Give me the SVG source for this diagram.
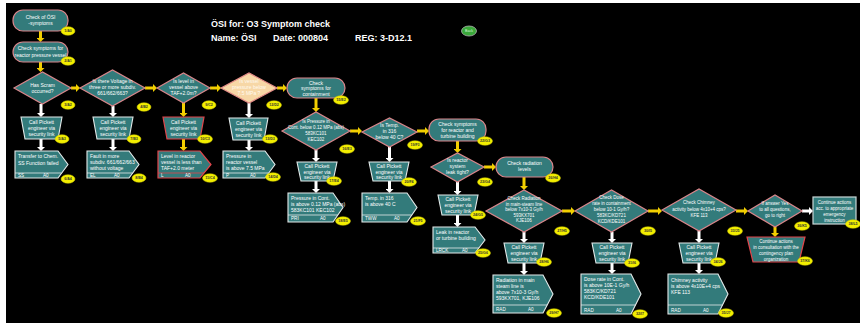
<svg xmlns="http://www.w3.org/2000/svg" width="860" height="323" viewBox="0 0 860 323">
<style>
.bg{fill:#000}
.pk{fill:#337b7b;stroke:#d9868b;stroke-width:1.2}
.wt{fill:#337b7b;stroke:#e4eaea;stroke-width:1.1}
.rd{fill:#337b7b;stroke:#e2454b;stroke-width:1.2}
.pe{fill:#f7d7a6;stroke:#e48d88;stroke-width:1.2}
.lb{fill:#337b7b;stroke:#c9d6d6;stroke-width:1.2}
.sep{stroke:#e4eaea;stroke-width:0.8;fill:none}
.seprd{stroke:#e2454b;stroke-width:0.8;fill:none}
text{font-family:"Liberation Sans",Arial,sans-serif}
.tx{font-size:5px;fill:#fff;text-anchor:middle}
.ts{font-size:4.5px;fill:#fff;text-anchor:middle}
.tl{font-size:5px;fill:#fff;text-anchor:start}
.tf{font-size:4.6px;fill:#fff;text-anchor:start}
.tpe{font-size:5px;fill:#fffaf0;text-anchor:middle}
.bd{fill:#f3ee00;stroke:#c9c200;stroke-width:0.5}
.bt{font-size:3.6px;font-weight:bold;fill:#333;text-anchor:middle}
.ttl{font-size:9px;font-weight:bold;fill:#fff}
.ya{stroke:#f2cf00;stroke-width:3;fill:none}
.wa{stroke:#ffffff;stroke-width:3;fill:none}
</style>
<defs>
<marker id="hy" viewBox="0 0 4 8" refX="0" refY="4" markerWidth="4" markerHeight="8" markerUnits="userSpaceOnUse" orient="auto"><path d="M0,0 L4,4 L0,8 Z" fill="#f2cf00"/></marker>
<marker id="hw" viewBox="0 0 4 8" refX="0" refY="4" markerWidth="4" markerHeight="8" markerUnits="userSpaceOnUse" orient="auto"><path d="M0,0 L4,4 L0,8 Z" fill="#ffffff"/></marker>
</defs>
<rect class="bg" x="0" y="0" width="860" height="323"/>
<rect x="0" y="0" width="860" height="3" fill="#fff"/>
<rect x="0" y="0" width="6" height="323" fill="#fff"/>

<g id="title">
<text class="ttl" x="211" y="27">ÖSI for: O3 Symptom check</text>
<text class="ttl" x="211" y="41">Name: ÖSI</text>
<text class="ttl" x="273" y="41">Date: 000804</text>
<text class="ttl" x="355" y="41">REG: 3-D12.1</text>
</g>
<g id="back">
<ellipse cx="469" cy="31" rx="7.5" ry="5" fill="#3aa83a" stroke="#b0b0b0" stroke-width="0.8"/>
<text x="469" y="32.3" style="font-size:3.5px;fill:#d8f8d8;text-anchor:middle">Back</text>
</g>

<g id="connectors">
<line class="ya" x1="40.5" y1="31" x2="40.5" y2="38" marker-end="url(#hy)"/>
<line class="ya" x1="40.5" y1="62" x2="40.5" y2="68" marker-end="url(#hy)"/>
<line class="ya" x1="71" y1="88" x2="76" y2="88" marker-end="url(#hy)"/>
<line class="ya" x1="145" y1="88" x2="153" y2="88" marker-end="url(#hy)"/>
<line class="ya" x1="210" y1="88" x2="217" y2="88" marker-end="url(#hy)"/>
<line class="ya" x1="277" y1="88" x2="283" y2="88" marker-end="url(#hy)"/>
<line class="ya" x1="316" y1="98" x2="316" y2="108" marker-end="url(#hy)"/>
<line class="ya" x1="350" y1="131" x2="358" y2="131" marker-end="url(#hy)"/>
<line class="ya" x1="417" y1="131" x2="425" y2="131" marker-end="url(#hy)"/>
<line class="ya" x1="457.5" y1="141" x2="457.5" y2="149" marker-end="url(#hy)"/>
<line class="ya" x1="484" y1="167" x2="492" y2="167" marker-end="url(#hy)"/>
<line class="ya" x1="524" y1="177" x2="524" y2="186" marker-end="url(#hy)"/>
<line class="ya" x1="562" y1="211" x2="571" y2="211" marker-end="url(#hy)"/>
<line class="ya" x1="648" y1="211" x2="658" y2="211" marker-end="url(#hy)"/>
<line class="ya" x1="736" y1="211" x2="744" y2="211" marker-end="url(#hy)"/>
<line class="ya" x1="775" y1="227" x2="775" y2="233" marker-end="url(#hy)"/>
<line class="ya" x1="183.5" y1="103" x2="183.5" y2="113" marker-end="url(#hy)"/>
<line class="ya" x1="183.5" y1="139" x2="183.5" y2="147" marker-end="url(#hy)"/>
<line class="wa" x1="41" y1="104" x2="41" y2="113" marker-end="url(#hw)"/>
<line class="wa" x1="41" y1="139" x2="41" y2="147" marker-end="url(#hw)"/>
<line class="wa" x1="113" y1="106" x2="113" y2="113" marker-end="url(#hw)"/>
<line class="wa" x1="113" y1="139" x2="113" y2="147" marker-end="url(#hw)"/>
<line class="wa" x1="249" y1="103" x2="249" y2="114" marker-end="url(#hw)"/>
<line class="wa" x1="249" y1="140" x2="249" y2="147" marker-end="url(#hw)"/>
<line class="wa" x1="316" y1="150" x2="316" y2="158" marker-end="url(#hw)"/>
<line class="wa" x1="316" y1="181" x2="316" y2="189" marker-end="url(#hw)"/>
<line class="wa" x1="389.5" y1="147" x2="389.5" y2="158" marker-end="url(#hw)"/>
<line class="wa" x1="389.5" y1="181" x2="389.5" y2="189" marker-end="url(#hw)"/>
<line class="wa" x1="457.5" y1="182" x2="457.5" y2="191" marker-end="url(#hw)"/>
<line class="wa" x1="457.5" y1="215" x2="457.5" y2="223" marker-end="url(#hw)"/>
<line class="wa" x1="524" y1="232" x2="524" y2="239" marker-end="url(#hw)"/>
<line class="wa" x1="524" y1="263" x2="524" y2="271" marker-end="url(#hw)"/>
<line class="wa" x1="612" y1="232" x2="612" y2="239" marker-end="url(#hw)"/>
<line class="wa" x1="612" y1="263" x2="612" y2="270" marker-end="url(#hw)"/>
<line class="wa" x1="699" y1="231" x2="699" y2="239" marker-end="url(#hw)"/>
<line class="wa" x1="699" y1="263" x2="699" y2="270" marker-end="url(#hw)"/>
<line class="wa" x1="802" y1="211" x2="809" y2="211" marker-end="url(#hw)"/>
</g>

<!-- Column A -->
<g id="n1">
<rect class="pk" x="13" y="10" width="55" height="21" rx="10"/>
<text class="tx" x="40.5" y="18.5">Check of ÖSI</text>
<text class="tx" x="40.5" y="25">-symptoms</text>
<ellipse class="bd" cx="68" cy="31" rx="7" ry="4.3"/><text class="bt" x="68" y="32.3">1/A0</text>
</g>
<g id="n2">
<rect class="pk" x="13" y="42" width="55" height="20" rx="10"/>
<text class="tx" x="40.5" y="50">Check symptoms for</text>
<text class="tx" x="40.5" y="56.5">reactor pressure vessel</text>
<ellipse class="bd" cx="68" cy="61" rx="7" ry="4.3"/><text class="bt" x="68" y="62.3">2/A1</text>
</g>
<g id="n3">
<polygon class="pk" points="14,88 42.5,72 71,88 42.5,104"/>
<text class="tx" x="42.5" y="87">Has Scram</text>
<text class="tx" x="42.5" y="93">occurred?</text>
<ellipse class="bd" cx="68" cy="105" rx="7" ry="4.3"/><text class="bt" x="68" y="106.3">3/A2</text>
</g>
<g id="n5">
<polygon class="wt" points="21,117 62,117 58,139 25,139"/>
<text class="tx" x="41.5" y="124">Call Pickett</text>
<text class="tx" x="41.5" y="130">engineer via</text>
<text class="tx" x="41.5" y="136">security link</text>
<ellipse class="bd" cx="62" cy="139" rx="7" ry="4.3"/><text class="bt" x="62" y="140.3">5/A3</text>
</g>
<g id="n6">
<path class="wt" d="M15,151 H58 L68,164.5 L58,178 H15 Z"/>
<path class="sep" d="M15,173 H61.5"/>
<text class="tl" x="18" y="158">Transfer to Chem.</text>
<text class="tl" x="18" y="164.5">SS Function failed</text>
<text class="tf" x="18" y="177">SS</text><text class="tf" x="43" y="177">A0</text>
<ellipse class="bd" cx="68" cy="179" rx="7" ry="4.3"/><text class="bt" x="68" y="180.3">6/A4</text>
</g>

<!-- Column B -->
<g id="n4">
<polygon class="pk" points="80,88 112.5,70 145,88 112.5,106"/>
<text class="tx" x="112.5" y="83">Is there Voltage in</text>
<text class="tx" x="112.5" y="89">three or more subdiv.</text>
<text class="tx" x="112.5" y="95">661/662/663?</text>
<ellipse class="bd" cx="144" cy="107" rx="7" ry="4.3"/><text class="bt" x="144" y="108.3">4/B2</text>
</g>
<g id="n7">
<polygon class="wt" points="93,117 133,117 129,139 97,139"/>
<text class="tx" x="113" y="124">Call Pickett</text>
<text class="tx" x="113" y="130">engineer via</text>
<text class="tx" x="113" y="136">security link</text>
<ellipse class="bd" cx="134" cy="139" rx="7" ry="4.3"/><text class="bt" x="134" y="140.3">7/B3</text>
</g>
<g id="n8">
<path class="wt" d="M87,151 H129 L139,164.5 L129,178 H87 Z"/>
<path class="sep" d="M87,173 H132.5"/>
<text class="tl" x="90" y="157.5">Fault in more</text>
<text class="tl" x="90" y="163.5">subdiv. 661/662/663</text>
<text class="tl" x="90" y="169.5">without voltage</text>
<text class="tf" x="90" y="177">EL</text><text class="tf" x="114" y="177">A0</text>
<ellipse class="bd" cx="139" cy="178" rx="7" ry="4.3"/><text class="bt" x="139" y="179.3">8/B4</text>
</g>

<!-- Column C -->
<g id="n9">
<polygon class="pk" points="157,88 183.5,73 210,88 183.5,103"/>
<text class="tx" x="183.5" y="83">Is level in</text>
<text class="tx" x="183.5" y="89">vessel above</text>
<text class="tx" x="183.5" y="95">TAF+2.0m?</text>
<ellipse class="bd" cx="209" cy="105" rx="7" ry="4.3"/><text class="bt" x="209" y="106.3">9/C2</text>
</g>
<g id="n10">
<polygon class="rd" points="163,117 204,117 200,139 167,139"/>
<text class="tx" x="183.5" y="124">Call Pickett</text>
<text class="tx" x="183.5" y="130">engineer via</text>
<text class="tx" x="183.5" y="136">security link</text>
<ellipse class="bd" cx="205" cy="139" rx="7.5" ry="4.3"/><text class="bt" x="205" y="140.3">10/C3</text>
</g>
<g id="n11">
<path class="rd" d="M158,151 H200 L211,164.5 L200,178 H158 Z"/>
<path class="seprd" d="M158,173 H204"/>
<text class="tl" x="161" y="157.5">Level in reactor</text>
<text class="tl" x="161" y="163.5">vessel is less than</text>
<text class="tl" x="161" y="169.5">TAF+2.0 meter</text>
<text class="tf" x="161" y="177">L</text><text class="tf" x="185" y="177">A0</text>
<ellipse class="bd" cx="210" cy="178" rx="7.5" ry="4.3"/><text class="bt" x="210" y="179.3">11/C4</text>
</g>

<!-- Column D -->
<g id="n12">
<polygon class="pe" points="221,88 249,73 277,88 249,103"/>
<text class="tpe" x="249" y="83">Is vessel</text>
<text class="tpe" x="249" y="89">pressure below</text>
<text class="tpe" x="249" y="95">7.5 MPa ?</text>
<ellipse class="bd" cx="274" cy="105" rx="7.5" ry="4.3"/><text class="bt" x="274" y="106.3">12/D2</text>
</g>
<g id="n13">
<polygon class="wt" points="229,118 268,118 264,140 233,140"/>
<text class="tx" x="248.5" y="125">Call Pickett</text>
<text class="tx" x="248.5" y="131">engineer via</text>
<text class="tx" x="248.5" y="137">security link</text>
<ellipse class="bd" cx="270" cy="139" rx="7.5" ry="4.3"/><text class="bt" x="270" y="140.3">13/D3</text>
</g>
<g id="n14">
<path class="wt" d="M223,151 H265 L275,164.5 L265,178 H223 Z"/>
<path class="sep" d="M223,173 H268.5"/>
<text class="tl" x="226" y="157.5">Pressure in</text>
<text class="tl" x="226" y="163.5">reactor vessel</text>
<text class="tl" x="226" y="169.5">is above 7.5 MPa</text>
<text class="tf" x="226" y="177">P</text><text class="tf" x="250" y="177">A0</text>
<ellipse class="bd" cx="273" cy="177" rx="7.5" ry="4.3"/><text class="bt" x="273" y="178.3">14/D4</text>
</g>

<!-- Column E -->
<g id="n15">
<rect class="pk" x="287" y="78" width="58" height="20" rx="10"/>
<text class="tx" x="316" y="84.5">Check</text>
<text class="tx" x="316" y="90">symptoms for</text>
<text class="tx" x="316" y="95.5">containment</text>
<ellipse class="bd" cx="341" cy="100" rx="7.5" ry="4.3"/><text class="bt" x="341" y="101.3">15/E2</text>
</g>
<g id="n16">
<polygon class="pk" points="282,131 316,112 350,131 316,150"/>
<text class="ts" x="316" y="123">Is Pressure in</text>
<text class="ts" x="316" y="129">Cont. below 0.12 MPa (abs)</text>
<text class="ts" x="316" y="135">583KC101</text>
<text class="ts" x="316" y="141">KEC102</text>
<ellipse class="bd" cx="347" cy="149" rx="7.5" ry="4.3"/><text class="bt" x="347" y="150.3">16/E3</text>
</g>
<g id="n17">
<polygon class="wt" points="297,162 337,162 333,181 301,181"/>
<text class="tx" x="317" y="168">Call Pickett</text>
<text class="tx" x="317" y="173.5">engineer via</text>
<text class="tx" x="317" y="179">security link</text>
<ellipse class="bd" cx="334" cy="181" rx="7.5" ry="4.3"/><text class="bt" x="334" y="182.3">17/E4</text>
</g>
<g id="n18">
<path class="wt" d="M288,193 H333 L343,207.5 L333,222 H288 Z"/>
<path class="sep" d="M288,215 H337.8"/>
<text class="tl" x="291" y="199.5">Pressure in Cont.</text>
<text class="tl" x="291" y="205.5">is above 0.12 MPa (abs)</text>
<text class="tl" x="291" y="211.5">583KC101 KEC102</text>
<text class="tf" x="291" y="220.3">PRI</text><text class="tf" x="320" y="220.3">A0</text>
<ellipse class="bd" cx="343" cy="221" rx="7.5" ry="4.3"/><text class="bt" x="343" y="222.3">18/E5</text>
</g>

<!-- Column F -->
<g id="n19">
<polygon class="pk" points="362,132 389.5,118 417,132 389.5,147"/>
<text class="tx" x="389.5" y="127">Is Temp.</text>
<text class="tx" x="389.5" y="133">in 316</text>
<text class="tx" x="389.5" y="139">below 40 C?</text>
<ellipse class="bd" cx="415" cy="145" rx="7.5" ry="4.3"/><text class="bt" x="415" y="146.3">19/F3</text>
</g>
<g id="n20">
<polygon class="wt" points="369,162 409,162 405,181 373,181"/>
<text class="tx" x="389" y="168">Call Pickett</text>
<text class="tx" x="389" y="173.5">engineer via</text>
<text class="tx" x="389" y="179">security link</text>
<ellipse class="bd" cx="409" cy="182" rx="7.5" ry="4.3"/><text class="bt" x="409" y="183.3">20/F4</text>
</g>
<g id="n21">
<path class="wt" d="M362,193 H407 L417,207.5 L407,222 H362 Z"/>
<path class="sep" d="M362,215 H411.8"/>
<text class="tl" x="365" y="200">Temp. in 316</text>
<text class="tl" x="365" y="206">is above 40 C</text>
<text class="tf" x="365" y="220.3">TWW</text><text class="tf" x="394" y="220.3">A0</text>
<ellipse class="bd" cx="418" cy="221" rx="7.5" ry="4.3"/><text class="bt" x="418" y="222.3">21/F5</text>
</g>

<!-- Column G -->
<g id="n22">
<rect class="pk" x="429" y="119" width="57" height="22" rx="10"/>
<text class="tx" x="457.5" y="126">Check symptoms</text>
<text class="tx" x="457.5" y="132">for reactor and</text>
<text class="tx" x="457.5" y="138">turbine building</text>
<ellipse class="bd" cx="485" cy="141" rx="7.5" ry="4.3"/><text class="bt" x="485" y="142.3">22/G3</text>
</g>
<g id="n23">
<polygon class="pk" points="431,167 457.5,153 484,167 457.5,182"/>
<text class="tx" x="457.5" y="162">Is reactor</text>
<text class="tx" x="457.5" y="168">system</text>
<text class="tx" x="457.5" y="174">leak tight?</text>
<ellipse class="bd" cx="485" cy="182" rx="7.5" ry="4.3"/><text class="bt" x="485" y="183.3">23/G4</text>
</g>
<g id="n24">
<polygon class="wt" points="438,195 478,195 474,215 442,215"/>
<text class="tx" x="458" y="201">Call Pickett</text>
<text class="tx" x="458" y="207">engineer via</text>
<text class="tx" x="458" y="213">security link</text>
<ellipse class="bd" cx="478" cy="215" rx="7.5" ry="4.3"/><text class="bt" x="478" y="216.3">24/G5</text>
</g>
<g id="n25">
<path class="wt" d="M433,227 H475 L485,240 L475,253 H433 Z"/>
<path class="sep" d="M433,248 H478.8"/>
<text class="tl" x="436" y="234">Leak in reactor</text>
<text class="tl" x="436" y="240">or turbine building</text>
<text class="tf" x="436" y="252">LRCK</text><text class="tf" x="462" y="252">A0</text>
<ellipse class="bd" cx="483" cy="253" rx="7.5" ry="4.3"/><text class="bt" x="483" y="254.3">25/G6</text>
</g>

<!-- Column H -->
<g id="n26">
<rect class="pk" x="496" y="157" width="57" height="20" rx="10"/>
<text class="tx" x="524.5" y="165">Check radiation</text>
<text class="tx" x="524.5" y="171">levels</text>
<ellipse class="bd" cx="553" cy="178" rx="7.5" ry="4.3"/><text class="bt" x="553" y="179.3">26/H4</text>
</g>
<g id="n27">
<polygon class="pk" points="486,211 524,190 562,211 524,232"/>
<text class="ts" x="524" y="200">Check Radiation</text>
<text class="ts" x="524" y="205.5">in main-steam line</text>
<text class="ts" x="524" y="211">below 7x10-3 Gy/h</text>
<text class="ts" x="524" y="216.5">593KX701</text>
<text class="ts" x="524" y="222">KJE106</text>
<ellipse class="bd" cx="562" cy="231" rx="7.5" ry="4.3"/><text class="bt" x="562" y="232.3">27/H5</text>
</g>
<g id="n28">
<polygon class="wt" points="504,243 544,243 540,263 508,263"/>
<text class="tx" x="524" y="249">Call Pickett</text>
<text class="tx" x="524" y="255">engineer via</text>
<text class="tx" x="524" y="261">security link</text>
<ellipse class="bd" cx="544" cy="262" rx="7.5" ry="4.3"/><text class="bt" x="544" y="263.3">28/H6</text>
</g>
<g id="n29">
<path class="wt" d="M493,275 H543 L553,294 L543,313 H493 Z"/>
<path class="sep" d="M493,305 H547.2"/>
<text class="tl" x="496" y="282">Radiation in main</text>
<text class="tl" x="496" y="288">steam line is</text>
<text class="tl" x="496" y="294">above 7x10-3 Gy/h</text>
<text class="tl" x="496" y="300">593KX701, KJE106</text>
<text class="tf" x="496" y="311">RAD</text><text class="tf" x="528" y="311">A0</text>
<ellipse class="bd" cx="554" cy="313" rx="7.5" ry="4.3"/><text class="bt" x="554" y="314.3">29/H7</text>
</g>

<!-- Column I -->
<g id="n30">
<polygon class="pk" points="575,211 611.5,190 648,211 611.5,232"/>
<text class="ts" x="611.5" y="199">Check Dose</text>
<text class="ts" x="611.5" y="205">rate in containment</text>
<text class="ts" x="611.5" y="211">below 10-1 Gy/h?</text>
<text class="ts" x="611.5" y="217">583KC/KD721</text>
<text class="ts" x="611.5" y="223">KCD/KDE101</text>
<ellipse class="bd" cx="648" cy="231" rx="7.5" ry="4.3"/><text class="bt" x="648" y="232.3">30/I5</text>
</g>
<g id="n31">
<polygon class="wt" points="592,243 632,243 628,263 596,263"/>
<text class="tx" x="612" y="249">Call Pickett</text>
<text class="tx" x="612" y="255">engineer via</text>
<text class="tx" x="612" y="261">security link</text>
<ellipse class="bd" cx="632" cy="263" rx="7.5" ry="4.3"/><text class="bt" x="632" y="264.3">31/I6</text>
</g>
<g id="n32">
<path class="wt" d="M581,274 H631 L641,294 L631,314 H581 Z"/>
<path class="sep" d="M581,305 H635.5"/>
<text class="tl" x="584" y="281">Dose rate in Cont.</text>
<text class="tl" x="584" y="287">is above 10E-1 Gy/h</text>
<text class="tl" x="584" y="293">583KC/KD721</text>
<text class="tl" x="584" y="299">KCD/KDE101</text>
<text class="tf" x="584" y="311.5">RAD</text><text class="tf" x="616" y="311.5">A0</text>
<ellipse class="bd" cx="640" cy="314" rx="7.5" ry="4.3"/><text class="bt" x="640" y="315.3">32/I7</text>
</g>

<!-- Column J -->
<g id="n33">
<polygon class="pk" points="662,210 699,189 736,210 699,231"/>
<text class="ts" x="699" y="204">Check Chimney</text>
<text class="ts" x="699" y="210.5">activity below 4x10+4 cps?</text>
<text class="ts" x="699" y="217">KFE 113</text>
<ellipse class="bd" cx="735" cy="231" rx="7.5" ry="4.3"/><text class="bt" x="735" y="232.3">33/J5</text>
</g>
<g id="n34">
<polygon class="wt" points="679,243 719,243 715,263 683,263"/>
<text class="tx" x="699" y="249">Call Pickett</text>
<text class="tx" x="699" y="255">engineer via</text>
<text class="tx" x="699" y="261">security link</text>
<ellipse class="bd" cx="718" cy="262" rx="7.5" ry="4.3"/><text class="bt" x="718" y="263.3">34/J6</text>
</g>
<g id="n35">
<path class="wt" d="M668,274 H718 L728,294 L718,314 H668 Z"/>
<path class="sep" d="M668,305 H722.5"/>
<text class="tl" x="671" y="282">Chimney activity</text>
<text class="tl" x="671" y="288">is above 4x10E+4 cps</text>
<text class="tl" x="671" y="294">KFE 113</text>
<text class="tf" x="671" y="311.5">RAD</text><text class="tf" x="703" y="311.5">A0</text>
<ellipse class="bd" cx="726" cy="313" rx="7.5" ry="4.3"/><text class="bt" x="726" y="314.3">35/J7</text>
</g>

<!-- Column K / L -->
<g id="n36">
<polygon class="pk" points="748,211 775,195 802,211 775,227"/>
<text class="ts" x="775" y="205">If answer Yes</text>
<text class="ts" x="775" y="211">to all questions,</text>
<text class="ts" x="775" y="217">go to right</text>
<ellipse class="bd" cx="802" cy="226" rx="7.5" ry="4.3"/><text class="bt" x="802" y="227.3">36/K5</text>
</g>
<g id="n37">
<polygon class="rd" points="747,237 805,237 799,262 753,262"/>
<text class="ts" x="776" y="243">Continue actions</text>
<text class="ts" x="776" y="249">in consultation with the</text>
<text class="ts" x="776" y="255">contingency plan</text>
<text class="ts" x="776" y="261">organization</text>
<ellipse class="bd" cx="805" cy="261" rx="7.5" ry="4.3"/><text class="bt" x="805" y="262.3">37/K6</text>
</g>
<g id="n38">
<rect class="lb" x="813" y="197" width="43" height="27"/>
<text class="ts" x="834.5" y="203.5">Continue actions</text>
<text class="ts" x="834.5" y="209.5">acc. to appropriate</text>
<text class="ts" x="834.5" y="215.5">emergency</text>
<text class="ts" x="834.5" y="221.5">instruction</text>
<ellipse class="bd" cx="853" cy="224" rx="7.5" ry="4.3"/><text class="bt" x="853" y="225.3">38/L5</text>
</g>
</svg>
